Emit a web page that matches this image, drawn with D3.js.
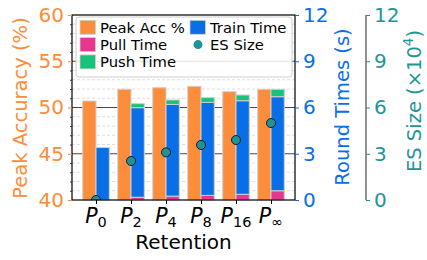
<!DOCTYPE html>
<html>
<head>
<meta charset="utf-8">
<script src="https://cdn.jsdelivr.net/npm/d3@7"></script>
<style>
body { margin: 0; background: #fff; }
svg { font-family: "DejaVu Sans", sans-serif; }
</style>
</head>
<body>
<div id="chart"></div>
<script>
// data
var categories = ["0", "2", "4", "8", "16", "∞"];
var peakAcc   = [50.7, 51.97, 52.14, 52.29, 51.71, 51.97];
var pullTime  = [0.0, 0.18, 0.25, 0.30, 0.37, 0.60];
var trainTime = [3.40, 5.81, 5.95, 6.03, 6.07, 6.10];
var pushTime  = [0.0, 0.26, 0.29, 0.31, 0.37, 0.48];
var esSize    = [0.0, 2.53, 3.09, 3.57, 3.89, 4.99];
var accTicks  = [40, 45, 50, 55, 60];
var timeTicks = [0, 3, 6, 9, 12];

var c_orange = "#fd8c3b", c_blue = "#0a6fe6", c_pink = "#e6368e",
    c_green = "#17c27a", c_teal = "#1f9498";

var W = 427, H = 260;
var plot = {left: 72, right: 295, top: 15, bottom: 200};

var svg = d3.select("#chart").append("svg")
    .attr("width", W).attr("height", H);

svg.append("clipPath").attr("id", "plotclip").append("rect")
    .attr("x", plot.left).attr("y", plot.top)
    .attr("width", plot.right - plot.left).attr("height", plot.bottom - plot.top);

var x = d3.scalePoint().domain(categories).range([plot.left, plot.right]).padding(0.686);
var barW = x.step() * 0.38;
var yAcc = d3.scaleLinear().domain([40, 60]).range([plot.bottom, plot.top]);
var yTime = d3.scaleLinear().domain([0, 12]).range([plot.bottom, plot.top]);
var yEs = d3.scaleLinear().domain([0, 12]).range([plot.bottom, plot.top]);

// grid lines
var minor = d3.range(41, 60).filter(function(v) { return v % 5 != 0; });
svg.append("g").selectAll("line").data(minor).enter().append("line")
    .attr("x1", plot.left).attr("x2", plot.right)
    .attr("y1", function(d) { return yAcc(d); }).attr("y2", function(d) { return yAcc(d); })
    .attr("stroke", "#d6d6d6").attr("stroke-width", 0.8).attr("stroke-dasharray", "3,2");
svg.append("g").selectAll("line").data([45, 50, 55]).enter().append("line")
    .attr("x1", plot.left).attr("x2", plot.right)
    .attr("y1", function(d) { return yAcc(d); }).attr("y2", function(d) { return yAcc(d); })
    .attr("stroke", "#4a4a4a").attr("stroke-width", 1.1);

// build rows
var rows = categories.map(function(c, i) {
    return {cat: c, acc: peakAcc[i], pull: pullTime[i], train: trainTime[i], push: pushTime[i], es: esSize[i]};
});

// accuracy bars
svg.append("g").selectAll("rect").data(rows).enter().append("rect")
    .attr("x", function(d) { return x(d.cat) - barW; })
    .attr("width", barW)
    .attr("y", function(d) { return yAcc(d.acc); })
    .attr("height", function(d) { return yAcc(40) - yAcc(d.acc); })
    .attr("fill", c_orange).attr("stroke", "#d0d0d0").attr("stroke-width", 1);

// stacked time bars
var stack = d3.stack().keys(["pull", "train", "push"])(rows);
var stackCol = {pull: c_pink, train: c_blue, push: c_green};
stack.forEach(function(layer) {
    svg.append("g").selectAll("rect").data(layer).enter().append("rect")
        .attr("x", function(d) { return x(d.data.cat); })
        .attr("width", barW)
        .attr("y", function(d) { return yTime(d[1]); })
        .attr("height", function(d) { return yTime(d[0]) - yTime(d[1]); })
        .attr("fill", stackCol[layer.key])
        .attr("stroke", "#d0d0d0").attr("stroke-width", function(d) { return d[1] - d[0] > 0 ? 1 : 0; });
});

// ES size dots (clipped to the axes like matplotlib)
svg.append("g").attr("clip-path", "url(#plotclip)")
    .selectAll("circle").data(rows).enter().append("circle")
    .attr("cx", function(d) { return x(d.cat); })
    .attr("cy", function(d) { return yEs(d.es); })
    .attr("r", 4.5)
    .attr("fill", c_teal).attr("stroke", "#111").attr("stroke-width", 0.9);

// frame
svg.append("rect")
    .attr("x", plot.left).attr("y", plot.top)
    .attr("width", plot.right - plot.left).attr("height", plot.bottom - plot.top)
    .attr("fill", "none").attr("stroke", "#000").attr("stroke-width", 1.2);

// left axis
var leftAx = svg.append("g").attr("transform", "translate(" + plot.left + ",0)")
    .call(d3.axisLeft(yAcc).tickValues(accTicks).tickSize(4).tickPadding(4));
leftAx.select(".domain").remove();
leftAx.selectAll("line").attr("stroke", c_orange);
leftAx.selectAll("text").attr("fill", c_orange).style("font-size", "20px").style("font-family", "DejaVu Sans");
var leftMinor = svg.append("g").attr("transform", "translate(" + plot.left + ",0)")
    .call(d3.axisLeft(yAcc).tickValues(minor).tickSize(2).tickFormat(""));
leftMinor.select(".domain").remove();
leftMinor.selectAll("line").attr("stroke", "#000").attr("stroke-width", 0.7);

// right axis: round times
var rAx = svg.append("g").attr("transform", "translate(" + plot.right + ",0)")
    .call(d3.axisRight(yTime).tickValues(timeTicks).tickSize(4).tickPadding(4));
rAx.select(".domain").remove();
rAx.selectAll("line").attr("stroke", c_blue);
rAx.selectAll("text").attr("fill", c_blue).style("font-size", "20px").style("font-family", "DejaVu Sans");

// second right axis: ES size
var esX = 366;
var r2Ax = svg.append("g").attr("transform", "translate(" + esX + ",0)")
    .call(d3.axisRight(yEs).tickValues(timeTicks).tickSize(4).tickPadding(4));
r2Ax.select(".domain").attr("stroke", "#222").attr("d", "M0," + plot.top + "V" + plot.bottom);
r2Ax.selectAll("line").attr("stroke", c_teal);
r2Ax.selectAll("text").attr("fill", c_teal).style("font-size", "20px").style("font-family", "DejaVu Sans");

// bottom axis
var bAx = svg.append("g").attr("transform", "translate(0," + plot.bottom + ")")
    .call(d3.axisBottom(x).tickSize(4).tickFormat(""));
bAx.select(".domain").remove();
bAx.selectAll("line").attr("stroke", "#000");
var xlab = svg.append("g").selectAll("text").data(categories).enter().append("text")
    .attr("x", function(d) { return x(d); })
    .attr("y", 223)
    .attr("text-anchor", "middle")
    .style("font-size", "20.5px").attr("fill", "#000");
xlab.append("tspan").style("font-style", "italic").text("P");
xlab.append("tspan").attr("dy", 4).style("font-size", "14.5px").text(function(d) { return d; });

// axis titles
svg.append("text")
    .attr("transform", "translate(27,108) rotate(-90)")
    .attr("text-anchor", "middle").attr("fill", c_orange)
    .style("font-size", "19.5px").text("Peak Accuracy (%)");
svg.append("text")
    .attr("transform", "translate(349,107) rotate(-90)")
    .attr("text-anchor", "middle").attr("fill", c_blue)
    .style("font-size", "19.5px").text("Round Times (s)");
var esLab = svg.append("text")
    .attr("transform", "translate(421,101) rotate(-90)")
    .attr("text-anchor", "middle").attr("fill", c_teal)
    .style("font-size", "19.5px");
esLab.append("tspan").text("ES Size (×10");
esLab.append("tspan").attr("dy", -8).style("font-size", "13.5px").text("4");
esLab.append("tspan").attr("dy", 8).text(")");
svg.append("text")
    .attr("x", (plot.left + plot.right) / 2).attr("y", 249)
    .attr("text-anchor", "middle").attr("fill", "#000")
    .style("font-size", "20px").text("Retention");

// legend
var lg = svg.append("g");
lg.append("rect")
    .attr("x", 76).attr("y", 17).attr("width", 216).attr("height", 60)
    .attr("rx", 3).attr("fill", "#fff").attr("fill-opacity", 0.85)
    .attr("stroke", "#cfcfcf").attr("stroke-width", 1);
var legendItems = [
    {label: "Peak Acc %", color: c_orange, col: 0, row: 0, type: "rect"},
    {label: "Pull Time", color: c_pink, col: 0, row: 1, type: "rect"},
    {label: "Push Time", color: c_green, col: 0, row: 2, type: "rect"},
    {label: "Train Time", color: c_blue, col: 1, row: 0, type: "rect"},
    {label: "ES Size", color: c_teal, col: 1, row: 1, type: "dot"}
];
legendItems.forEach(function(it) {
    var px = it.col == 0 ? 80 : 190;
    var cy = 27.3 + it.row * 17.3;
    if (it.type == "rect") {
        lg.append("rect").attr("x", px).attr("y", cy - 7).attr("width", 15.5).attr("height", 14)
            .attr("fill", it.color).attr("stroke", "#d0d0d0").attr("stroke-width", 0.8);
    } else {
        lg.append("circle").attr("cx", px + 8).attr("cy", cy).attr("r", 4.5)
            .attr("fill", it.color);
    }
    lg.append("text").attr("x", px + 20).attr("y", cy + 5.3)
        .attr("fill", "#000").style("font-size", "14.8px").text(it.label);
});
</script>
</body>
</html>
